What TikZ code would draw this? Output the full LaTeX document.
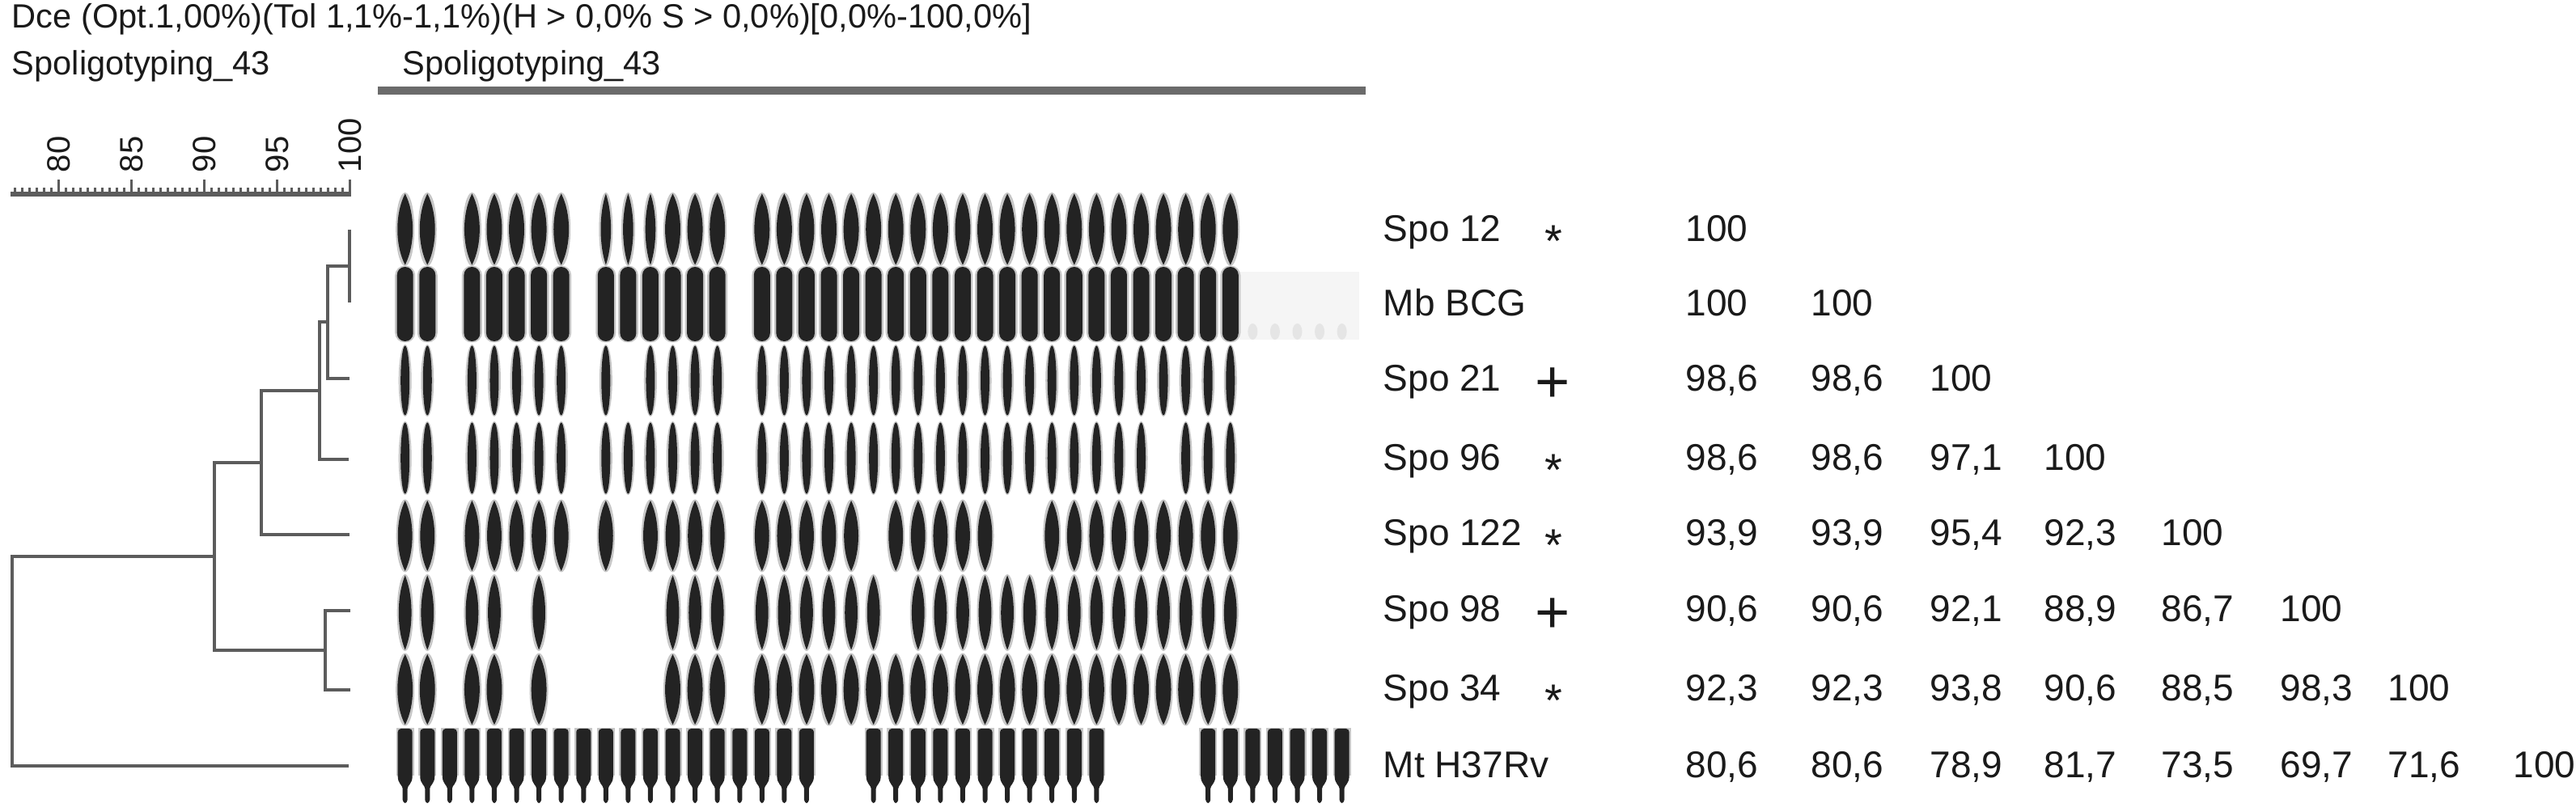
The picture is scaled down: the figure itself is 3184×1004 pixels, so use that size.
\documentclass[tikz,border=0pt]{standalone}
\usepackage{fontspec}
\setmainfont{Liberation Sans}
\definecolor{ink}{HTML}{1A1A1A}
\definecolor{dendcol}{HTML}{5C5C5C}
\definecolor{bandcol}{HTML}{232323}
\newcommand{\bandlens}[4]{%
  \fill[bandhalo] (#1,#2) ellipse [x radius=#3+2.5, y radius=#4+1.5];
  \fill[bandcore] (#1,{#2-#4}) .. controls ({#1+1.4*#3},{#2-0.45*#4}) and ({#1+1.4*#3},{#2+0.45*#4}) .. (#1,{#2+#4}) .. controls ({#1-1.4*#3},{#2+0.45*#4}) and ({#1-1.4*#3},{#2-0.45*#4}) .. cycle;}
\newcommand{\bandell}[4]{%
  \fill[bandhalo] (#1,#2) ellipse [x radius=#3+2.5, y radius=#4+1.5];
  \fill[bandcore] (#1,#2) ellipse [x radius=#3, y radius=#4];}
\newcommand{\bandbox}[4]{%
  \fill[bandhalo, rounded corners=3pt] ({#1-#4-2.5},{#2-1.5}) rectangle ({#1+#4+2.5},{#3+1.5});
  \fill[bandcore, rounded corners=2.5pt] ({#1-#4},#2) rectangle ({#1+#4},#3);}
\newcommand{\bandbottle}[4]{%
  \fill[bandhalo] ({#1-#4-2},{#2-1}) rectangle ({#1+#4+2},{#2+58});
  \fill[bandcore, rounded corners=1pt] ({#1-#4},#2) -- ({#1+#4},#2) -- ({#1+#4},{#2+55}) .. controls ({#1+#4},{#2+68}) and ({#1+3},{#2+70}) .. ({#1+3},{#2+78}) -- ({#1+3},#3) -- ({#1-3},#3) -- ({#1-3},{#2+78}) .. controls ({#1-3},{#2+70}) and ({#1-#4},{#2+68}) .. ({#1-#4},{#2+55}) -- cycle;}
\begin{document}
\begin{tikzpicture}[x=0.25pt,y=-0.25pt,
  bandcore/.style={fill=bandcol},
  bandhalo/.style={fill=black!22},
  txt/.style={font=\fontsize{11.5}{13}\selectfont, text=ink, inner sep=0pt, anchor=base west},
  starmark/.style={font=\fontsize{14}{16}\selectfont, text=ink, inner sep=0pt, anchor=base},
  plusmark/.style={font=\fontsize{18.5}{20}\selectfont, text=ink, inner sep=0pt, anchor=base},
  head/.style={font=\fontsize{10.4}{12}\selectfont, text=ink, inner sep=0pt, anchor=base west},
  axlab/.style={font=\fontsize{10}{12}\selectfont, text=ink, inner sep=0pt, anchor=west, rotate=90},
  dend/.style={draw=dendcol, line width=1pt},
  axisline/.style={draw=dendcol, line width=1.3pt},
  ticks/.style={draw=dendcol, line width=0.8pt},
  topline/.style={draw=black!58, line width=2.4pt}]
\path[use as bounding box, fill=white] (0,0) rectangle (3184,1004);

% headings
\node[head] (title) at (14,35) {Dce (Opt.1,00\%)(Tol 1,1\%-1,1\%)(H > 0,0\% S > 0,0\%)[0,0\%-100,0\%]};
\node[head] (spolA) at (14,93) {Spoligotyping\_43};
\node[head] (spolB) at (497,93) {Spoligotyping\_43};
\draw[topline] (467,112) -- (1688,112);

% scale axis
\draw[axisline] (13,240) -- (434,240);
\foreach \v in {77,77.5,...,99.5} \draw[ticks] ({432.7-(100-\v)*18},240) -- ++(0,-8);
\foreach \v in {80,85,90,95,100} \draw[ticks] ({432.7-(100-\v)*18},240) -- ++(0,-18);
\node[axlab] (a80) at (72.7,214) {80};
\node[axlab] (a85) at (162.7,214) {85};
\node[axlab] (a90) at (252.7,214) {90};
\node[axlab] (a95) at (342.7,214) {95};
\node[axlab] (a100) at (432.7,214) {100};

% dendrogram
\coordinate (L1) at (432,284);
\coordinate (L2) at (432,374);
\coordinate (nA) at (432,329);
\coordinate (L3) at (432,468);
\coordinate (nB) at (405,398.5);
\coordinate (L4) at (431,568);
\coordinate (nC) at (395,483);
\coordinate (L5) at (432,661);
\coordinate (nD) at (323,572);
\coordinate (L6) at (433,755);
\coordinate (L7) at (433,853);
\coordinate (nF) at (402,804);
\coordinate (nE) at (265,688);
\coordinate (L8) at (431,947);
\coordinate (nR) at (15,817);
\draw[dend] (L1) -- (L2);
\draw[dend] (L3) -| (nB |- nA) -- (nA);
\draw[dend] (L4) -| (nC |- nB) -- (nB);
\draw[dend] (L5) -| (nD |- nC) -- (nC);
\draw[dend] (L6) -| (nF) |- (L7);
\draw[dend] (nF) -| (nE |- nD) -- (nD);
\draw[dend] (L8) -| (nR |- nE) -- (nE);

% spoligotype bands
% row 1 Spo 12
\foreach \s in {1,2,4,5,6,7,8,13,14,15,17,18,...,38} {\pgfmathsetmacro{\bx}{500.7+(\s-1)*27.57}\bandlens{\bx}{283.5}{9}{44}}
\foreach \s in {10,11,12} {\pgfmathsetmacro{\bx}{500.7+(\s-1)*27.57}\bandlens{\bx}{283.5}{6}{44}}
% row 2 Mb BCG
\fill[black!4] (1530,336) rectangle (1680,420);
\foreach \s in {39,...,43} {\pgfmathsetmacro{\bx}{500.7+(\s-1)*27.57}\fill[black!10] (\bx,410) ellipse [x radius=6, y radius=10];}
\foreach \s in {1,2,4,5,6,7,8,10,11,...,15,17,18,...,38} {\pgfmathsetmacro{\bx}{500.7+(\s-1)*27.57}\bandbox{\bx}{330}{422}{10}}
% row 3 Spo 21
\foreach \s in {1,2,4,5,6,7,8,10,12,13,14,15,17,18,...,38} {\pgfmathsetmacro{\bx}{500.7+(\s-1)*27.57}\bandell{\bx}{470.5}{5.5}{43}}
% row 4 Spo 96
\foreach \s in {1,2,4,5,6,7,8,10,11,...,15,17,18,...,34,36,37,38} {\pgfmathsetmacro{\bx}{500.7+(\s-1)*27.57}\bandell{\bx}{566.5}{5.5}{44}}
% row 5 Spo 122
\foreach \s in {1,2,4,5,6,7,8,10,12,13,14,15,17,18,19,20,21,23,24,25,26,27,30,31,...,38} {\pgfmathsetmacro{\bx}{500.7+(\s-1)*27.57}\bandlens{\bx}{662.5}{8.5}{43.5}}
% row 6 Spo 98
\foreach \s in {1,2,4,5,7,13,14,15,17,18,...,22,24,25,...,38} {\pgfmathsetmacro{\bx}{500.7+(\s-1)*27.57}\bandlens{\bx}{757.5}{7.5}{46}}
% row 7 Spo 34
\foreach \s in {1,2,4,5,7,13,14,15,17,18,...,38} {\pgfmathsetmacro{\bx}{500.7+(\s-1)*27.57}\bandlens{\bx}{852.5}{9}{43.5}}
% row 8 Mt H37Rv
\foreach \s in {1,2,...,19,22,23,...,32,37,38,...,43} {\pgfmathsetmacro{\bx}{500.7+(\s-1)*27.57}\bandbottle{\bx}{901}{993}{9}}

% strain labels
\node[txt] (s1) at (1709,299) {Spo 12};
\node[txt] (s2) at (1709,391) {Mb BCG};
\node[txt] (s3) at (1709,484) {Spo 21};
\node[txt] (s4) at (1709,582) {Spo 96};
\node[txt] (s5) at (1709,675) {Spo 122};
\node[txt] (s6) at (1709,769) {Spo 98};
\node[txt] (s7) at (1709,867) {Spo 34};
\node[txt] (s8) at (1709,961) {Mt H37Rv};
\node[starmark] (k1) at (1920,318) {*};
\node[plusmark] (k3) at (1919,497.5) {+};
\node[starmark] (k4) at (1920,601) {*};
\node[starmark] (k5) at (1920,694) {*};
\node[plusmark] (k6) at (1919,782.5) {+};
\node[starmark] (k7) at (1920,886) {*};

% similarity matrix
\node[txt] (v11) at (2083,299) {100};
\node[txt] (v21) at (2083,391) {100};
\node[txt] (v22) at (2238,391) {100};
\node[txt] (v31) at (2083,484) {98,6};
\node[txt] (v32) at (2238,484) {98,6};
\node[txt] (v33) at (2385,484) {100};
\node[txt] (v41) at (2083,582) {98,6};
\node[txt] (v42) at (2238,582) {98,6};
\node[txt] (v43) at (2385,582) {97,1};
\node[txt] (v44) at (2526,582) {100};
\node[txt] (v51) at (2083,675) {93,9};
\node[txt] (v52) at (2238,675) {93,9};
\node[txt] (v53) at (2385,675) {95,4};
\node[txt] (v54) at (2526,675) {92,3};
\node[txt] (v55) at (2671,675) {100};
\node[txt] (v61) at (2083,769) {90,6};
\node[txt] (v62) at (2238,769) {90,6};
\node[txt] (v63) at (2385,769) {92,1};
\node[txt] (v64) at (2526,769) {88,9};
\node[txt] (v65) at (2671,769) {86,7};
\node[txt] (v66) at (2818,769) {100};
\node[txt] (v71) at (2083,867) {92,3};
\node[txt] (v72) at (2238,867) {92,3};
\node[txt] (v73) at (2385,867) {93,8};
\node[txt] (v74) at (2526,867) {90,6};
\node[txt] (v75) at (2671,867) {88,5};
\node[txt] (v76) at (2818,867) {98,3};
\node[txt] (v77) at (2951,867) {100};
\node[txt] (v81) at (2083,961) {80,6};
\node[txt] (v82) at (2238,961) {80,6};
\node[txt] (v83) at (2385,961) {78,9};
\node[txt] (v84) at (2526,961) {81,7};
\node[txt] (v85) at (2671,961) {73,5};
\node[txt] (v86) at (2818,961) {69,7};
\node[txt] (v87) at (2951,961) {71,6};
\node[txt] (v88) at (3106,961) {100};
\end{tikzpicture}
\end{document}
